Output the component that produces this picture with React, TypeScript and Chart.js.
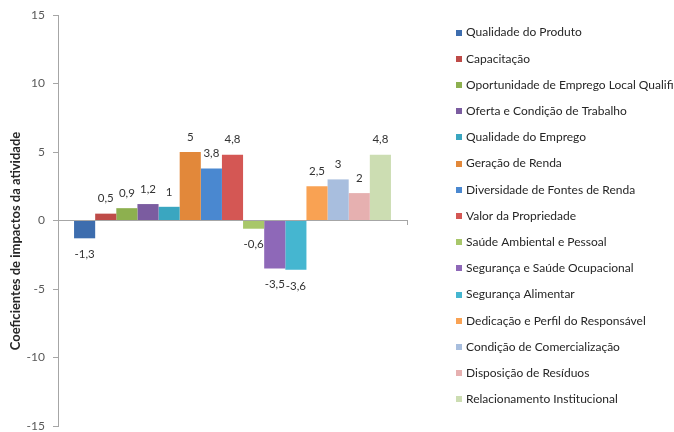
import React, { useEffect, useRef } from 'react';
import { Chart, registerables } from 'chart.js';

Chart.register(...registerables);

const categories = [''];
const seriesNames = [
  'Qualidade do Produto',
  'Capacitação',
  'Oportunidade de Emprego Local Qualifi',
  'Oferta e Condição de Trabalho',
  'Qualidade do Emprego',
  'Geração de Renda',
  'Diversidade de Fontes de Renda',
  'Valor da Propriedade',
  'Saúde Ambiental e Pessoal',
  'Segurança e Saúde Ocupacional',
  'Segurança Alimentar',
  'Dedicação e Perfil do Responsável',
  'Condição de Comercialização',
  'Disposição de Resíduos',
  'Relacionamento Institucional',
];
const seriesValues = [-1.3, 0.5, 0.9, 1.2, 1, 5, 3.8, 4.8, -0.6, -3.5, -3.6, 2.5, 3, 2, 4.8];
const seriesColors = [
  '#3D6DAE', '#BE4B48', '#8DB04F', '#7B5CA0', '#3AA6C0',
  '#E2883A', '#4A88D0', '#D45754', '#A8C76A', '#8E68B8',
  '#45B6D0', '#F9A253', '#A8BEDE', '#E6B0B0', '#CCDDB2',
];
const yMin = -15;
const yMax = 15;
const yStep = 5;
const yAxisTitle = 'Coeficientes de impactos da atividade';

const FONT = 'Lato, "Open Sans", sans-serif';
const AXIS = '#A6A6A6';

const fmt = (v: number) => String(v).replace('.', ',');

const valueLabels = {
  id: 'valueLabels',
  afterDatasetsDraw(chart: any) {
    const ctx = chart.ctx;
    ctx.save();
    ctx.font = `11.5px ${FONT}`;
    ctx.fillStyle = '#333333';
    ctx.textAlign = 'center';
    ctx.textBaseline = 'middle';
    chart.data.datasets.forEach((ds: any, i: number) => {
      const meta = chart.getDatasetMeta(i);
      meta.data.forEach((bar: any, j: number) => {
        const v = ds.data[j] as number;
        const ty = v >= 0 ? bar.y - 15 : bar.y + 16;
        ctx.fillText(fmt(v), bar.x, ty);
      });
    });
    ctx.restore();
  },
};

const sideLegend = {
  id: 'sideLegend',
  afterDraw(chart: any) {
    const ctx = chart.ctx;
    ctx.save();
    ctx.font = `12px ${FONT}`;
    ctx.textAlign = 'left';
    ctx.textBaseline = 'middle';
    const x0 = chart.chartArea.right + 49;
    const y0 = 32.5;
    const step = 26.2;
    chart.data.datasets.forEach((ds: any, i: number) => {
      const y = y0 + i * step;
      ctx.fillStyle = ds.backgroundColor;
      ctx.fillRect(x0, Math.round(y - 3), 6, 6);
      ctx.fillStyle = '#262626';
      ctx.fillText(ds.label, x0 + 10, y);
    });
    ctx.restore();
  },
};

const axisTitle = {
  id: 'axisTitle',
  afterDraw(chart: any) {
    const ctx = chart.ctx;
    ctx.save();
    ctx.translate(16, 241);
    ctx.rotate(-Math.PI / 2);
    ctx.font = `bold 13px ${FONT}`;
    ctx.fillStyle = '#262626';
    ctx.textAlign = 'center';
    ctx.textBaseline = 'middle';
    ctx.fillText(yAxisTitle, 0, 0);
    ctx.restore();
  },
};

export default function App() {
  const ref = useRef<HTMLCanvasElement | null>(null);
  useEffect(() => {
    if (!ref.current) return;
    const chart = new Chart(ref.current, {
      type: 'bar',
      data: {
        labels: categories,
        datasets: seriesNames.map((name, i) => ({
          label: name,
          data: [seriesValues[i]],
          backgroundColor: seriesColors[i],
          borderWidth: 0,
        })),
      },
      options: {
        animation: false,
        responsive: true,
        maintainAspectRatio: false,
        layout: { padding: { top: 15, bottom: 6, left: 0, right: 267 } },
        datasets: { bar: { categoryPercentage: 0.908, barPercentage: 1 } } as any,
        plugins: { legend: { display: false }, tooltip: { enabled: false } },
        scales: {
          x: {
            position: { y: 0 } as any,
            grid: { display: true, drawOnChartArea: false, drawTicks: true, tickLength: 4, color: AXIS },
            border: { display: true, color: AXIS },
            ticks: { display: false },
          },
          y: {
            min: yMin,
            max: yMax,
            ticks: { stepSize: yStep, font: { family: FONT, size: 12, lineHeight: 1.0 }, color: '#595959', padding: 8 },
            grid: { drawOnChartArea: false, drawTicks: true, tickLength: 5, color: AXIS },
            border: { display: true, color: AXIS },
            afterFit: (s: any) => {
              s.width = 58;
              s.paddingTop = 0;
              s.paddingBottom = 0;
            },
          },
        },
      },
      plugins: [valueLabels, sideLegend, axisTitle],
    });
    return () => chart.destroy();
  }, []);
  return (
    <div style={{ position: 'absolute', left: 0, top: 0, width: 674, height: 432 }}>
      <canvas ref={ref} />
    </div>
  );
}
